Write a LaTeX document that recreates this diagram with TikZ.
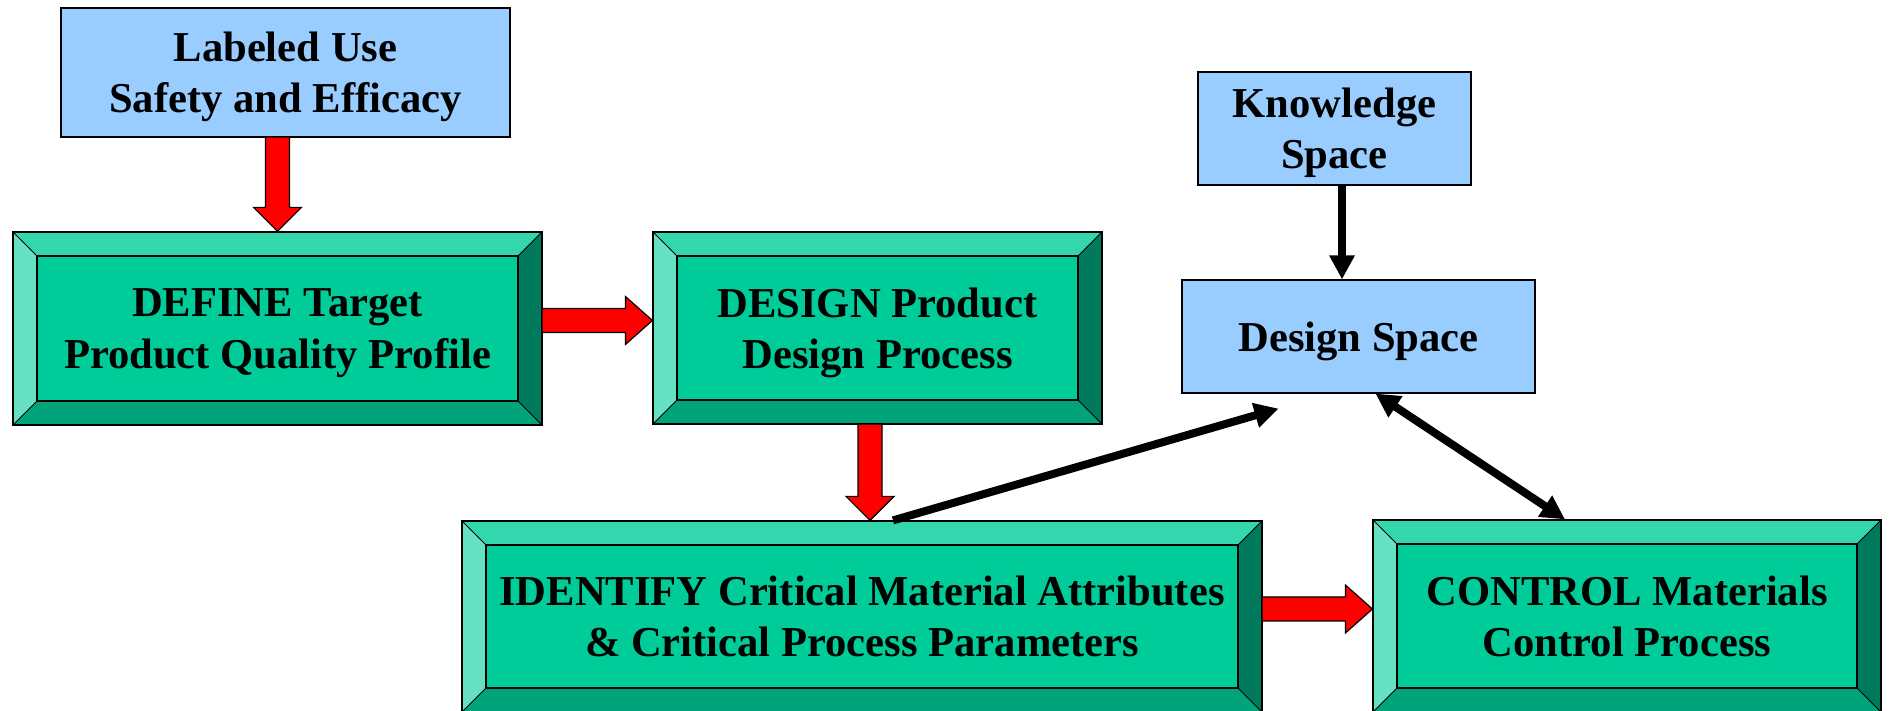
\documentclass[tikz,border=0pt]{standalone}
\usepackage{fontspec}
\setmainfont{Liberation Serif}
\usetikzlibrary{arrows.meta}
\usetikzlibrary{calc}
\usetikzlibrary{positioning}

\definecolor{skyblue}{HTML}{99CCFF}
\definecolor{qbdgreen}{HTML}{00CC99}
\definecolor{bevtop}{HTML}{33D6AD}
\definecolor{bevleft}{HTML}{66E0C2}
\definecolor{bevbottom}{HTML}{00A37A}
\definecolor{bevright}{HTML}{007A5C}

\newcommand{\bev}{12pt}

\tikzset{
  txt/.style={font=\bfseries\fontsize{21.3}{25.7}\selectfont, align=center, inner sep=0pt, text depth=0pt},
  spacebox/.style={txt, draw, line width=0.6pt, fill=skyblue},
  bevelbox/.style={txt, draw, line width=0.6pt, fill=qbdgreen,
    path picture={
      \coordinate (nw) at (path picture bounding box.north west);
      \coordinate (ne) at (path picture bounding box.north east);
      \coordinate (sw) at (path picture bounding box.south west);
      \coordinate (se) at (path picture bounding box.south east);
      \fill[bevtop] (nw) -- (ne) -- ++(-\bev,-\bev) -- ([shift={(\bev,-\bev)}]nw) -- cycle;
      \fill[bevleft] (nw) -- (sw) -- ++(\bev,\bev) -- ([shift={(\bev,-\bev)}]nw) -- cycle;
      \fill[bevbottom] (sw) -- (se) -- ++(-\bev,\bev) -- ([shift={(\bev,\bev)}]sw) -- cycle;
      \fill[bevright] (ne) -- (se) -- ++(-\bev,\bev) -- ([shift={(-\bev,-\bev)}]ne) -- cycle;
      \draw[line width=0.6pt] ([shift={(\bev,-\bev)}]nw) rectangle ([shift={(-\bev,\bev)}]se);
      \draw[line width=0.5pt] (nw) -- ++(\bev,-\bev) (ne) -- ++(-\bev,-\bev)
        (sw) -- ++(\bev,\bev) (se) -- ++(-\bev,\bev);
    }},
  redblock/.style={draw, line width=0.6pt, fill=red, line join=miter},
  link/.style={line width=4pt},
}

% fat red arrows, shaft from #1 to the tip at #2
\newcommand{\blockdown}[2]{%
  \draw[redblock] ($(#1)+(-12,0)$) -- ($(#2)+(-12,24)$) -- ($(#2)+(-24,24)$) -- (#2)
    -- ($(#2)+(24,24)$) -- ($(#2)+(12,24)$) -- ($(#1)+(12,0)$);}
\newcommand{\blockright}[2]{%
  \draw[redblock] ($(#1)+(0,12)$) -- ($(#2)+(-27,12)$) -- ($(#2)+(-27,24)$) -- (#2)
    -- ($(#2)+(-27,-24)$) -- ($(#2)+(-27,-12)$) -- ($(#1)+(0,-12)$);}

\begin{document}
\begin{tikzpicture}[line cap=butt,line join=miter,>={Triangle[length=12pt,width=12pt]},x=0.5pt,y=0.5pt]
\useasboundingbox (0,0) rectangle (1889,711);

% blue boxes
\node[spacebox, minimum width=224.5pt, minimum height=64.5pt] (use) at (285.5,638.5)
  {Labeled Use\\Safety and Efficacy};
\node[spacebox, minimum width=136.5pt, minimum height=56.5pt] (knowledge) at (1334.5,582.5)
  {Knowledge\\Space};
\node[spacebox, minimum width=176.5pt, minimum height=56.5pt] (space) at (1358.5,374.5)
  {Design Space};

% bevelled steps
\node[bevelbox, minimum width=264.5pt, minimum height=96.5pt] (define) at (277.5,382.5)
  {DEFINE Target\\Product Quality Profile};
\node[bevelbox, minimum width=224.5pt, minimum height=96pt] (design) at (877.5,383)
  {DESIGN Product\\Design Process};
\node[bevelbox, minimum width=400pt, minimum height=95.5pt] (identify) at (862,94.5)
  {IDENTIFY Critical Material Attributes\\\& Critical Process Parameters};
\node[bevelbox, minimum width=254pt, minimum height=96pt] (control) at (1627,95)
  {CONTROL Materials\\Control Process};

% red flow
\coordinate (usefoot) at (define.north |- use.south);
\blockdown{usefoot}{define.north}
\coordinate (defout) at ($(define.east)+(0,8)$);
\coordinate (desin) at (defout -| design.west);
\blockright{defout}{desin}
\coordinate (desout) at ($(design.south)+(-7.5,0)$);
\coordinate (idin) at (desout |- identify.north);
\blockdown{desout}{idin}
\coordinate (idout) at ($(identify.east)+(0,7.5)$);
\coordinate (ctlin) at (idout -| control.west);
\blockright{idout}{ctlin}

% black links
\draw[link,->] ($(knowledge.south)+(7.5,0)$) -- ($(space.north)+(-16.5,0)$);
\coordinate (spacein) at ($(space.south)+(-80,-15)$);
\draw[link,->] ($(identify.north)+(31,0)$) -- (spacein);
\draw[link,<->] ($(space.south)+(17,0)$) -- ($(control.north)+(-62,0)$);
\end{tikzpicture}
\end{document}
